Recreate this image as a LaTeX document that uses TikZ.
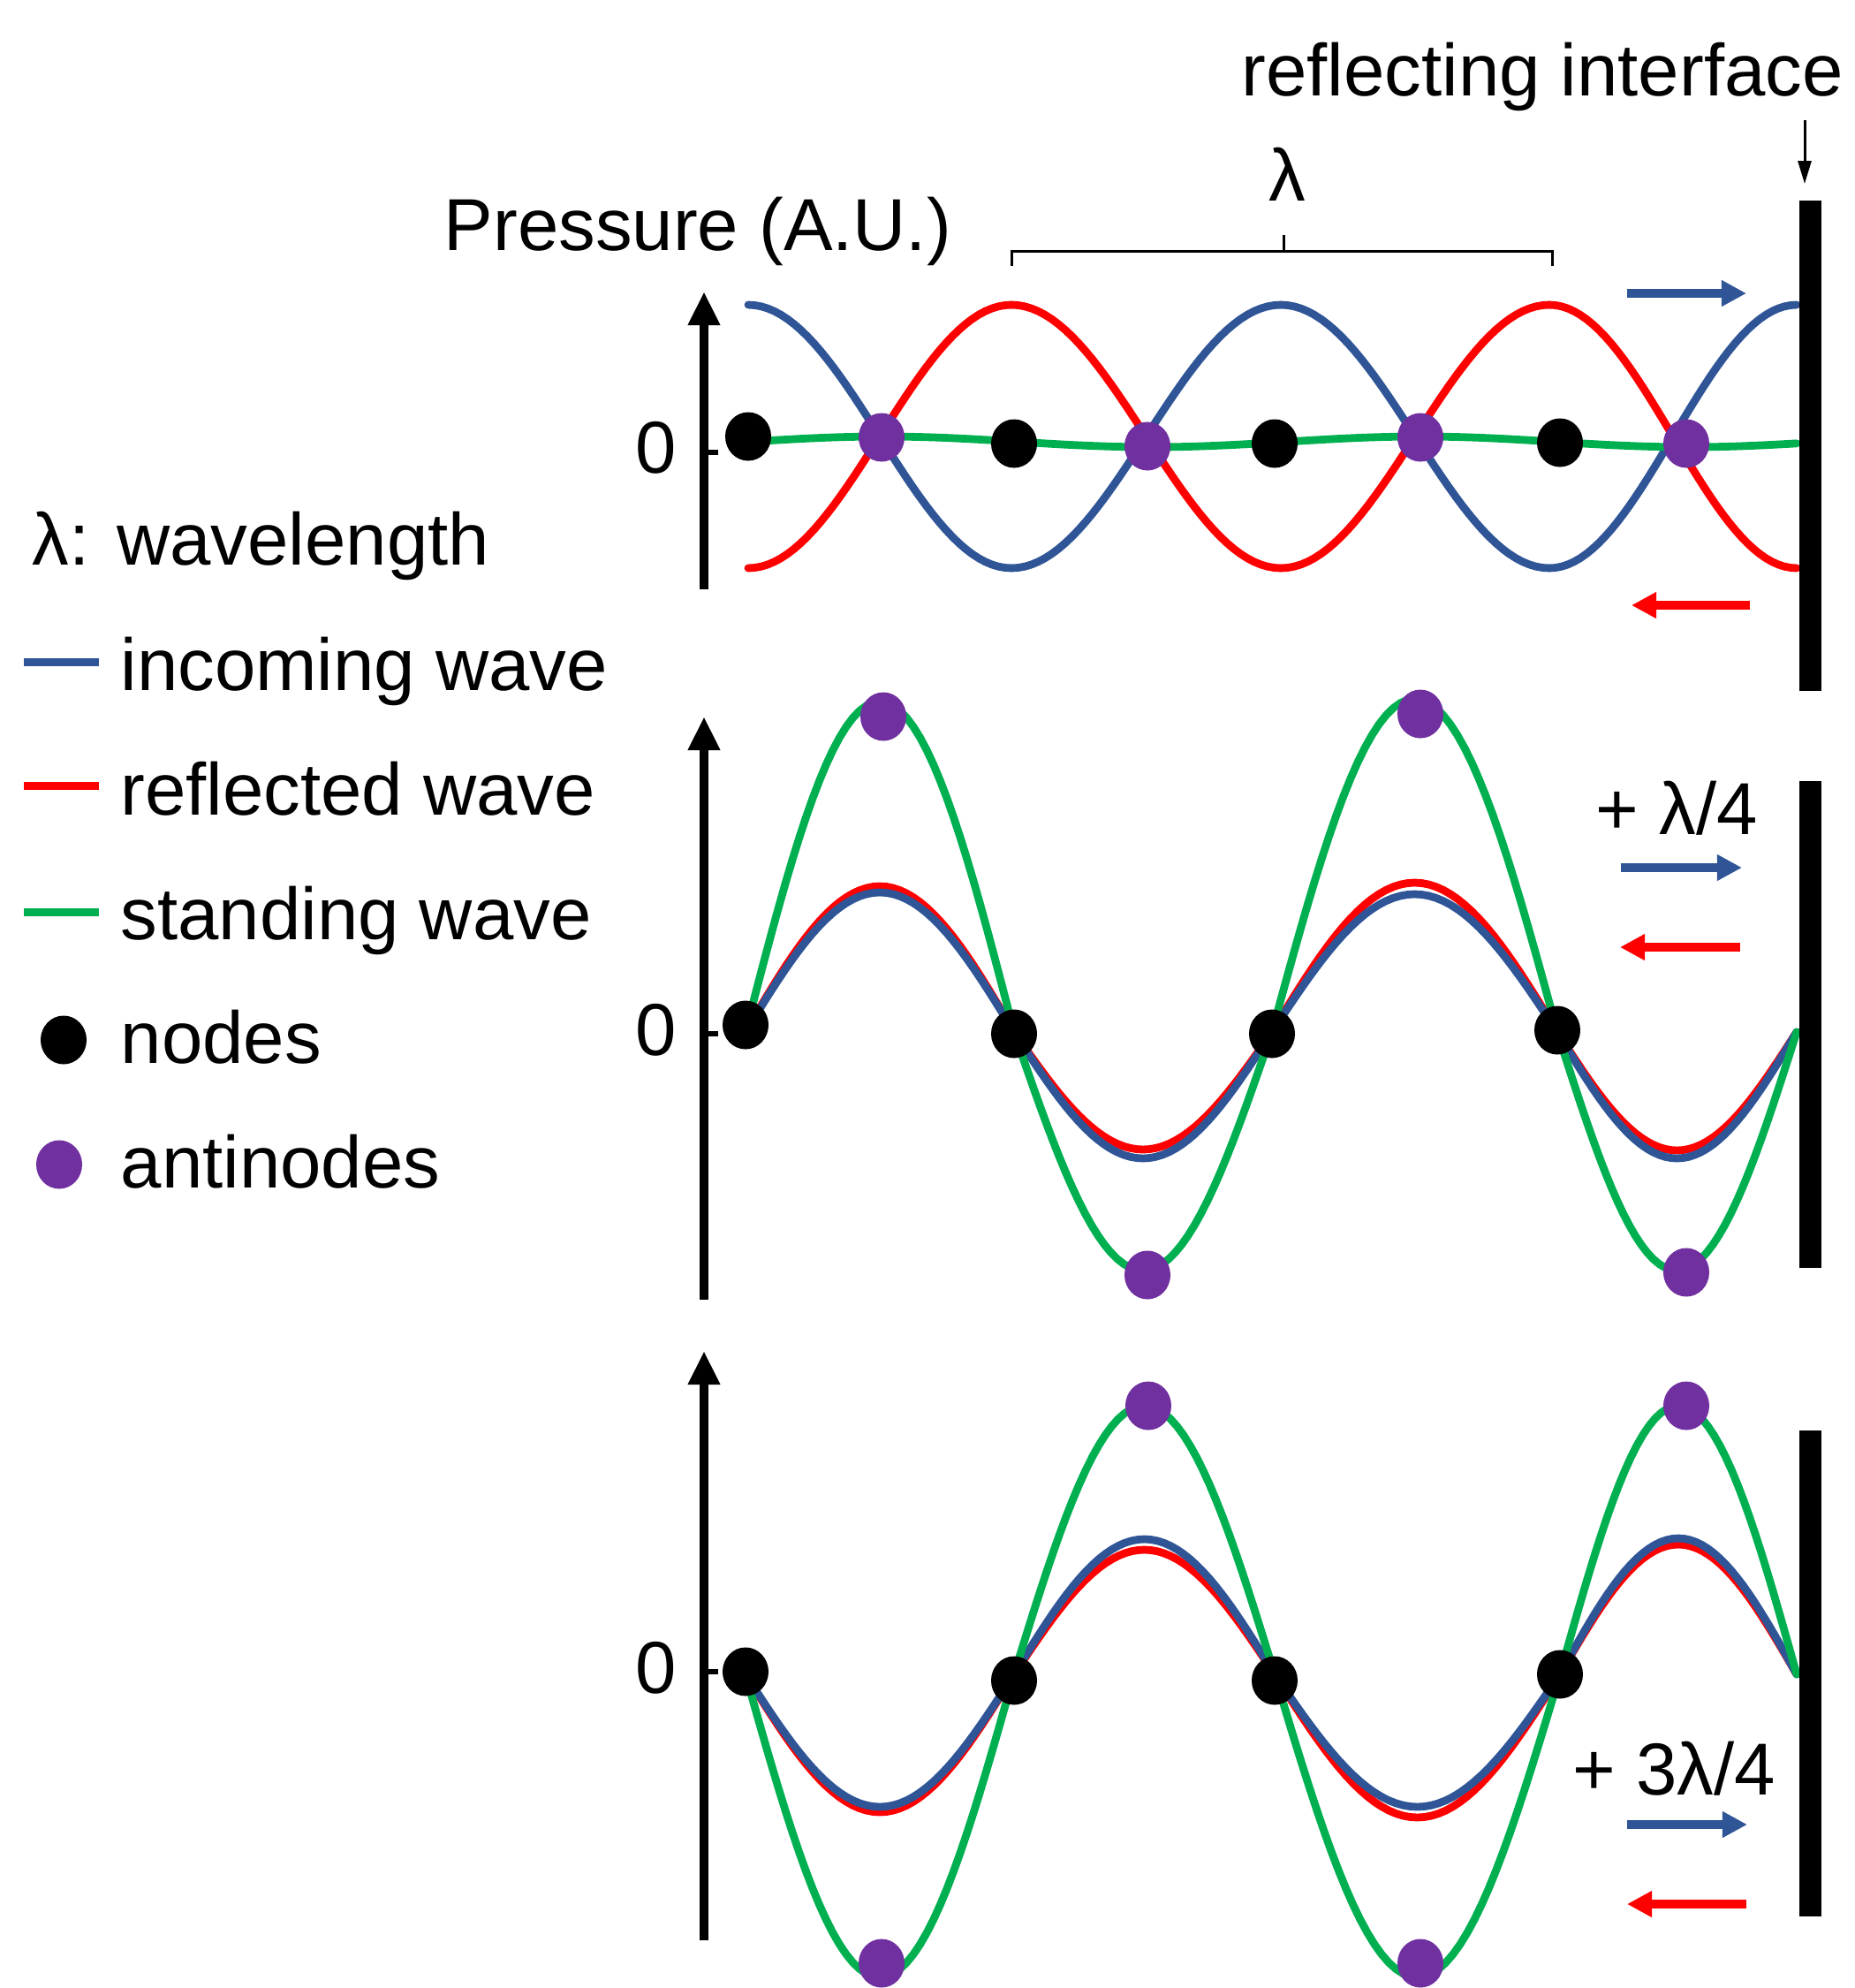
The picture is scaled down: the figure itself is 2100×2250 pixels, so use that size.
\documentclass[tikz,border=0pt]{standalone}
\usepackage{fontspec}
\setmainfont{Liberation Sans}
\usetikzlibrary{arrows.meta,shapes.geometric}
\definecolor{inc}{RGB}{47,85,151}
\definecolor{refl}{RGB}{255,0,0}
\definecolor{stand}{RGB}{0,176,80}
\definecolor{anti}{RGB}{112,48,160}
\newcommand\wseg[4]{\draw[#1] plot[domain=0:180,samples=41,variable=\t] ({#2+(#3-#2)*(\t/180)},{#4});}
\begin{document}
\begin{tikzpicture}[x=0.01cm,y=-0.01cm,
  lbl/.style={inner sep=0pt, anchor=base west, font=\fontsize{23.7pt}{28pt}\selectfont},
  wave/.style={line width=0.088cm, line cap=round},
  incw/.style={wave, draw=inc},
  reflw/.style={wave, draw=refl},
  standw/.style={wave, draw=stand},
  ndot/.style={ellipse, fill=black, inner sep=0pt, minimum width=0.52cm, minimum height=0.55cm},
  adot/.style={ellipse, fill=anti, inner sep=0pt, minimum width=0.52cm, minimum height=0.55cm},
  axis/.style={line width=0.1cm, -{Triangle[width=0.34cm,length=0.38cm]}},
  zerotick/.style={line width=0.06cm},
  wall/.style={fill=black},
  incarrow/.style={draw=inc, line width=0.1cm, -{Triangle[width=0.28cm,length=0.28cm]}},
  reflarrow/.style={draw=refl, line width=0.1cm, -{Triangle[width=0.28cm,length=0.28cm]}},
  thin line/.style={line width=0.03cm}
]
\useasboundingbox (0,0) rectangle (2100,2250);

% ---------------- top labels ----------------
\node[lbl] (ri) at (1405,108) {reflecting interface};
\coordinate (riA) at (2043,136);
\coordinate (riB) at (2043,208);
\draw[thin line, -{Triangle[width=0.15cm,length=0.26cm]}] (riA) -- (riB);
\node[lbl, anchor=base] (lam) at (1457,227) {λ};
\node[lbl] (pres) at (502,283) {Pressure (A.U.)};
\coordinate (brL) at (1145,301);
\coordinate (brR) at (1757,301);
\coordinate (brC) at (1453,284);
\coordinate (brT) at (1453,266);
\draw[thin line] (brL) |- (brC) -| (brR);
\draw[thin line] (brC) -- (brT);

% ---------------- legend ----------------
\node[lbl] (lgl) at (36,639) {λ: wavelength};
\draw[line width=0.09cm, inc] (27,749) -- (112,749);
\node[lbl] (lgi) at (136,781) {incoming wave};
\draw[line width=0.09cm, refl] (27,889) -- (112,889);
\node[lbl] (lgr) at (136,922) {reflected wave};
\draw[line width=0.09cm, stand] (27,1032) -- (112,1032);
\node[lbl] (lgs) at (136,1063) {standing wave};
\node[ndot] (lgnd) at (72,1177) {};
\node[lbl] (lgn) at (136,1203) {nodes};
\node[adot] (lgad) at (67,1318) {};
\node[lbl] (lga) at (136,1344) {antinodes};

% ---------------- panel 1 ----------------
\draw[axis] (797,667) -- (797,330);
\draw[zerotick] (797,512) -- (813,512);
\node[lbl, anchor=base east] (z1) at (767,535) {0};
\wseg{reflw}{847}{1145}{494+149*cos(\t)}
\wseg{reflw}{1145}{1450}{494-149*cos(\t)}
\wseg{reflw}{1450}{1754}{494+149*cos(\t)}
\wseg{reflw}{1754}{2034}{494-149*cos(\t)}
\wseg{incw}{847}{1145}{494-149*cos(\t)}
\wseg{incw}{1145}{1450}{494+149*cos(\t)}
\wseg{incw}{1450}{1754}{494-149*cos(\t)}
\wseg{incw}{1754}{2034}{494+149*cos(\t)}
\draw[standw] plot[domain=847:2034,samples=120,variable=\t] (\t,{500-6*cos((\t-1000)/608*360)});
\node[ndot] (p1n1) at (847,494) {};
\node[ndot] (p1n2) at (1148,502) {};
\node[ndot] (p1n3) at (1443,502) {};
\node[ndot] (p1n4) at (1766,501) {};
\node[adot] (p1a1) at (998,495) {};
\node[adot] (p1a2) at (1299,505) {};
\node[adot] (p1a3) at (1608,495) {};
\node[adot] (p1a4) at (1909,502) {};
\fill[wall] (2037,227) rectangle (2062,782);
\draw[incarrow] (1842,332) -- (1977,332);
\draw[reflarrow] (1981,685) -- (1847,685);

% ---------------- panel 2 ----------------
\draw[axis] (797,1471) -- (797,811);
\draw[zerotick] (797,1170) -- (813,1170);
\node[lbl, anchor=base east] (z2) at (767,1194) {0};
\wseg{reflw}{844}{1148}{1168-165*sin(\t)}
\wseg{reflw}{1148}{1440}{1168+133*sin(\t)}
\wseg{reflw}{1440}{1763}{1168-169*sin(\t)}
\wseg{reflw}{1763}{2034}{1168+134*sin(\t)}
\wseg{incw}{844}{1148}{1168-158*sin(\t)}
\wseg{incw}{1148}{1440}{1168+143*sin(\t)}
\wseg{incw}{1440}{1763}{1168-156*sin(\t)}
\wseg{incw}{1763}{2034}{1168+143*sin(\t)}
\wseg{standw}{844}{1148}{1168-374*sin(\t)}
\wseg{standw}{1148}{1440}{1168+270*sin(\t)}
\wseg{standw}{1440}{1763}{1168-377*sin(\t)}
\wseg{standw}{1763}{2034}{1168+270*sin(\t)}
\node[ndot] (p2n1) at (844,1160) {};
\node[ndot] (p2n2) at (1148,1170) {};
\node[ndot] (p2n3) at (1440,1170) {};
\node[ndot] (p2n4) at (1763,1166) {};
\node[adot] (p2a1) at (1000,811) {};
\node[adot] (p2a2) at (1299,1443) {};
\node[adot] (p2a3) at (1608,808) {};
\node[adot] (p2a4) at (1909,1440) {};
\fill[wall] (2037,884) rectangle (2062,1435);
\node[lbl] (q2) at (1806,944) {+ λ/4};
\draw[incarrow] (1835,982) -- (1972,982);
\draw[reflarrow] (1970,1072) -- (1834,1072);

% ---------------- panel 3 ----------------
\draw[axis] (797,2196) -- (797,1529);
\draw[zerotick] (797,1892) -- (813,1892);
\node[lbl, anchor=base east] (z3) at (767,1916) {0};
\wseg{reflw}{844}{1148}{1895+156*sin(\t)}
\wseg{reflw}{1148}{1443}{1895-141*sin(\t)}
\wseg{reflw}{1443}{1766}{1895+162*sin(\t)}
\wseg{reflw}{1766}{2034}{1895-147*sin(\t)}
\wseg{incw}{844}{1148}{1895+150*sin(\t)}
\wseg{incw}{1148}{1443}{1895-153*sin(\t)}
\wseg{incw}{1443}{1766}{1895+150*sin(\t)}
\wseg{incw}{1766}{2034}{1895-154*sin(\t)}
\wseg{standw}{844}{1148}{1895+343*sin(\t)}
\wseg{standw}{1148}{1443}{1895-304*sin(\t)}
\wseg{standw}{1443}{1766}{1895+343*sin(\t)}
\wseg{standw}{1766}{2034}{1895-304*sin(\t)}
\node[ndot] (p3n1) at (844,1892) {};
\node[ndot] (p3n2) at (1148,1902) {};
\node[ndot] (p3n3) at (1443,1902) {};
\node[ndot] (p3n4) at (1766,1895) {};
\node[adot] (p3a1) at (998,2222) {};
\node[adot] (p3a2) at (1300,1591) {};
\node[adot] (p3a3) at (1608,2222) {};
\node[adot] (p3a4) at (1909,1591) {};
\fill[wall] (2037,1619) rectangle (2062,2169);
\node[lbl] (q3) at (1780,2031) {+ 3λ/4};
\draw[incarrow] (1842,2065) -- (1978,2065);
\draw[reflarrow] (1977,2155) -- (1842,2155);
\end{tikzpicture}
\end{document}
